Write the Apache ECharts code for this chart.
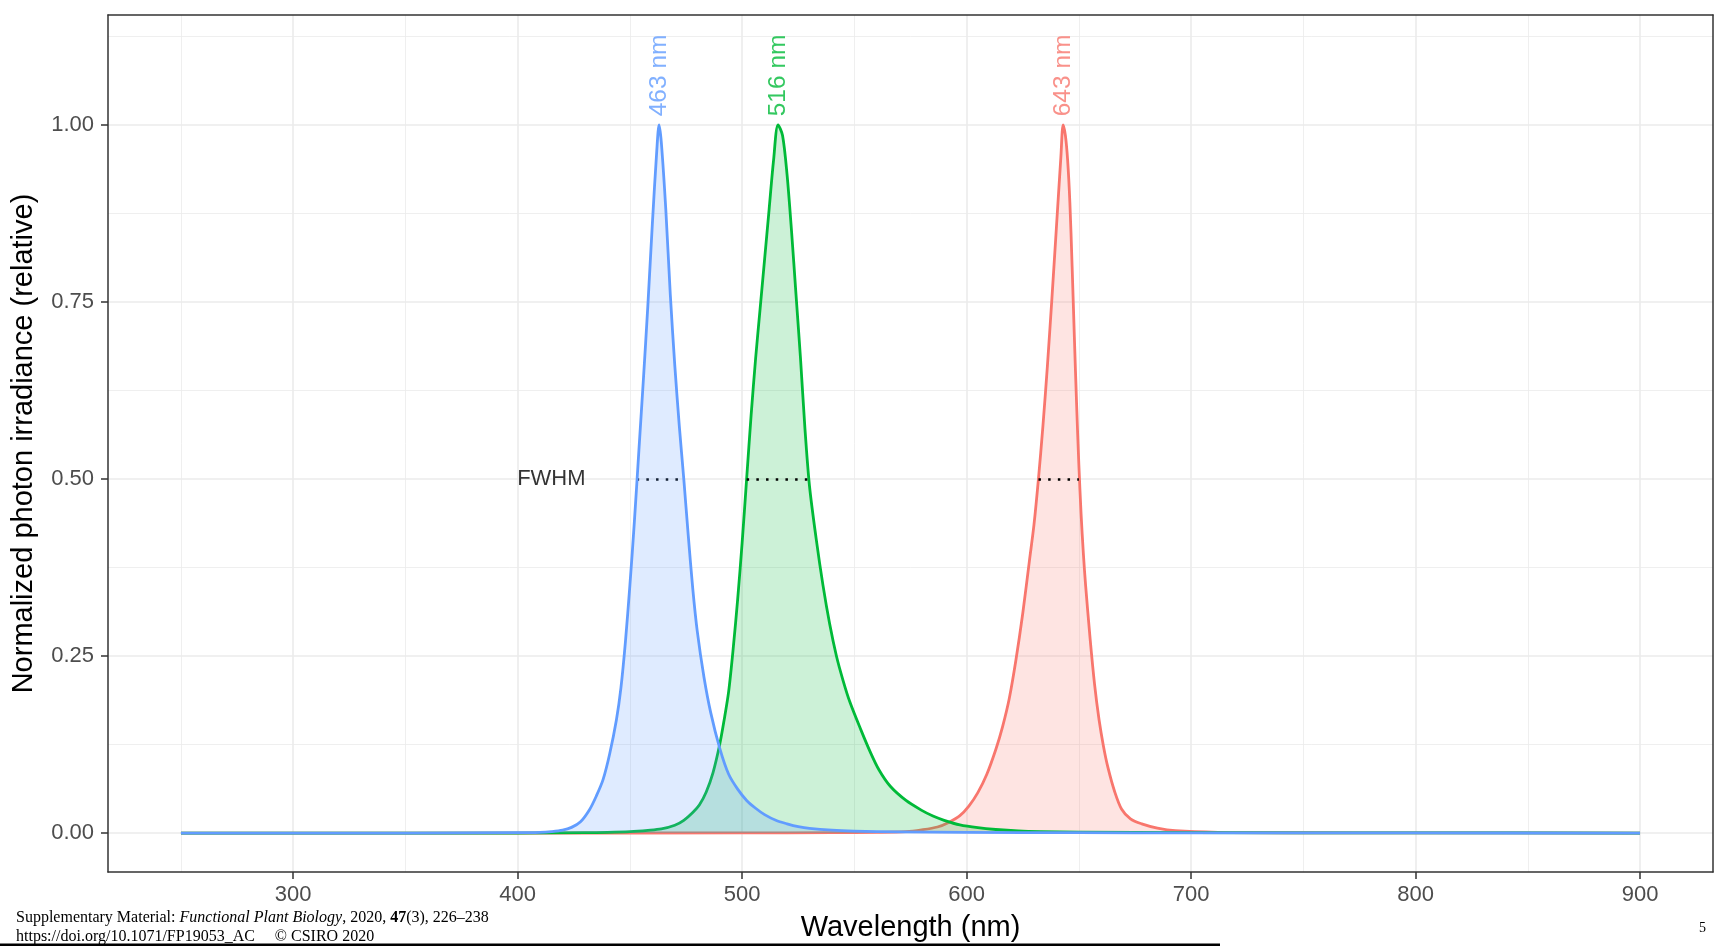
<!DOCTYPE html>
<html><head><meta charset="utf-8">
<script src="https://cdn.jsdelivr.net/npm/echarts@6/dist/echarts.min.js"></script>
<style>html,body{margin:0;padding:0;background:#fff}#c{width:1716px;height:947px}</style>
</head><body><div id="c"></div>
<script>
// ---- data (series order: red, green, blue) ----
const seriesNames = ['643 nm LED', '516 nm LED', '463 nm LED'];
const seriesColors = ['#F8766D', '#00BA38', '#619CFF'];

const redNm  = [250,300,400,500,540,560,573,580,587,592,597,601,605,609,613,616,619,622,625,628,630,632,634,636,638,640,642,643,644,645,646,647,648,649,650,651,652,653,655,657,659,661,663,666,669,673,678,685,693,712,750,800,900];
const redVal = [0,0,0,0.0002,0.0005,0.001,0.002,0.0045,0.0085,0.015,0.0245,0.038,0.057,0.083,0.118,0.15,0.19,0.245,0.31,0.385,0.435,0.5,0.575,0.66,0.755,0.855,0.955,1.0,0.985,0.95,0.89,0.8,0.7,0.605,0.52,0.45,0.395,0.35,0.275,0.21,0.16,0.122,0.092,0.058,0.034,0.02,0.013,0.007,0.0033,0.001,0.0004,0.0002,0];

const greenNm  = [250,300,350,400,430,440,450,458,464,470,474,478,481,484,487,490,492,494,496,498,500,502,504,506,508,510,512,514,516,518,520,522,524,526,528,530,533,536,539,542,545,548,553,557,561,566,573,580,585,590,597,605,613,623,633,650,700,800,900];
const greenVal = [0,0,0,0,0.0005,0.001,0.002,0.0038,0.0058,0.011,0.018,0.029,0.04,0.058,0.085,0.125,0.16,0.2,0.26,0.33,0.41,0.5,0.59,0.67,0.74,0.81,0.88,0.95,1.0,0.985,0.93,0.85,0.76,0.67,0.57,0.49,0.415,0.35,0.295,0.25,0.215,0.185,0.145,0.115,0.089,0.066,0.046,0.032,0.024,0.018,0.0115,0.0075,0.005,0.003,0.002,0.0012,0.0005,0.0002,0];

const blueNm  = [250,300,350,400,410,415,420,424,428,432,435,438,441,444,446,448,450,452,454,456,458,460,462,463,464,466,468,470,472,474,476,478,480,483,486,490,494,498,502,506,510,515,520,525,530,540,550,570,600,650,700,800,900];
const blueVal = [0,0,0,0.0005,0.001,0.002,0.004,0.008,0.016,0.033,0.052,0.075,0.112,0.16,0.205,0.27,0.35,0.44,0.54,0.64,0.745,0.86,0.965,1.0,0.975,0.88,0.76,0.66,0.575,0.5,0.42,0.345,0.285,0.22,0.17,0.12,0.083,0.062,0.046,0.035,0.026,0.018,0.013,0.009,0.0065,0.004,0.0028,0.0016,0.001,0.0005,0.0003,0.0001,0];

const peakNm = [643, 516, 463];
const peakText = ['643 nm', '516 nm', '463 nm'];
const peakLabelY = 1.012;
const fwhmLo = [632, 502, 453];
const fwhmHi = [650, 529.5, 474];
const fwhmLevel = 0.5;
const fwhmTextPos = [415, 0.5];
const fwhmText = 'FWHM';

const xTicks = [300, 400, 500, 600, 700, 800, 900];
const yTicks = [0, 0.25, 0.5, 0.75, 1.0];
const xMin = 217.5, xMax = 932.5;
const yMin = -0.055, yMax = 1.155;

// ---- chart ----
const FONT = 'Liberation Sans, Arial, Helvetica, sans-serif';
const SERIF = 'Liberation Serif, Times New Roman, serif';
const chart = echarts.init(document.getElementById('c'), null, {renderer: 'canvas'});
const pairs = (xs, ys) => xs.map((x, i) => [x, ys[i]]);
const spectra = [[redNm, redVal], [greenNm, greenVal], [blueNm, blueVal]];

const series = spectra.map((s, i) => ({
  name: seriesNames[i],
  type: 'line',
  data: pairs(s[0], s[1]),
  showSymbol: false,
  smooth: 0.3,
  silent: true,
  z: 3 + i,
  lineStyle: {color: seriesColors[i], width: 2.8, join: 'round'},
  areaStyle: {color: seriesColors[i], opacity: 0.2},
  markLine: {
    silent: true,
    symbol: ['none', 'none'],
    label: {show: false},
    lineStyle: {color: '#000', type: [2.5, 7.2], width: 2.5, cap: 'butt'},
    data: [[{coord: [fwhmLo[i], fwhmLevel]}, {coord: [fwhmHi[i], fwhmLevel]}]]
  }
}));

series.push({
  type: 'scatter',
  silent: true,
  symbolSize: 0,
  z: 10,
  data: peakNm.map((x, i) => ({value: [x, peakLabelY], label: {color: seriesColors[i]}})),
  label: {
    show: true, position: 'inside', rotate: 90, align: 'left', verticalAlign: 'middle',
    fontSize: 24.5, fontFamily: FONT,
    formatter: p => peakText[p.dataIndex]
  }
});
series.push({
  type: 'scatter',
  silent: true,
  symbolSize: 0,
  z: 10,
  data: [fwhmTextPos],
  label: {
    show: true, position: 'inside', align: 'center', verticalAlign: 'middle',
    fontSize: 22, fontFamily: FONT, color: '#000',
    formatter: () => fwhmText
  }
});

const gridLeft = 108, gridTop = 15, gridRight = 3, gridBottom = 71;
const axisStroke = {color: '#333', width: 1.5};
const frameAxis = (pos, min, max) => ({
  type: 'value', position: pos, min, max,
  axisLine: {show: true, onZero: false, lineStyle: axisStroke},
  axisTick: {show: false}, axisLabel: {show: false},
  splitLine: {show: false}, minorSplitLine: {show: false}
});

chart.setOption({
  animation: false,
  backgroundColor: '#fff',
  grid: {left: gridLeft, top: gridTop, right: gridRight, bottom: gridBottom, show: false},
  xAxis: [{
    type: 'value', position: 'bottom', min: xMin, max: xMax, minInterval: 100, maxInterval: 100,
    axisLine: {show: true, onZero: false, lineStyle: axisStroke},
    axisTick: {show: true, inside: false, length: 7, lineStyle: axisStroke, customValues: xTicks},
    axisLabel: {customValues: xTicks, margin: 12, fontSize: 22, color: '#4D4D4D', fontFamily: FONT},
    splitLine: {show: true, lineStyle: {color: '#EBEBEB', width: 1.6}},
    minorTick: {show: false, splitNumber: 2},
    minorSplitLine: {show: true, lineStyle: {color: '#EBEBEB', width: 0.8}},
    name: 'Wavelength (nm)', nameLocation: 'middle', nameGap: 41,
    nameTextStyle: {fontSize: 29, color: '#000', fontFamily: FONT}
  }, frameAxis('top', xMin, xMax)],
  yAxis: [{
    type: 'value', position: 'left', min: yMin, max: yMax, minInterval: 0.25, maxInterval: 0.25,
    axisLine: {show: true, onZero: false, lineStyle: axisStroke},
    axisTick: {show: true, inside: false, length: 7, lineStyle: axisStroke, customValues: yTicks},
    axisLabel: {customValues: yTicks, margin: 14, fontSize: 22, color: '#4D4D4D', fontFamily: FONT,
      formatter: v => Number(v).toFixed(2)},
    splitLine: {show: true, lineStyle: {color: '#EBEBEB', width: 1.6}},
    minorTick: {show: false, splitNumber: 2},
    minorSplitLine: {show: true, lineStyle: {color: '#EBEBEB', width: 0.8}},
    name: 'Normalized photon irradiance (relative)', nameLocation: 'middle', nameGap: 70,
    nameTextStyle: {fontSize: 29, color: '#000', fontFamily: FONT}
  }, frameAxis('right', yMin, yMax)],
  series: series,
  graphic: [
    {type: 'text', left: 16, top: 910, z: 100, silent: true,
      style: {
        text: '{r|Supplementary Material: }{i|Functional Plant Biology}{r|, 2020, }{b|47}{r|(3), 226–238}',
        rich: {
          r: {fontFamily: SERIF, fontSize: 16, fill: '#000'},
          i: {fontFamily: SERIF, fontSize: 16, fontStyle: 'italic', fill: '#000'},
          b: {fontFamily: SERIF, fontSize: 16, fontWeight: 'bold', fill: '#000'}
        }
      }},
    {type: 'text', left: 16, top: 929, z: 100, silent: true,
      style: {text: 'https://doi.org/10.1071/FP19053_AC     © CSIRO 2020', fontFamily: SERIF, fontSize: 16, fill: '#000'}},
    {type: 'text', left: 1699, top: 921, z: 100, silent: true,
      style: {text: '5', fontFamily: SERIF, fontSize: 14, fill: '#000'}},
    {type: 'rect', z: 100, silent: true,
      shape: {x: 0, y: 943.5, width: 1220, height: 2.5}, style: {fill: '#000'}}
  ]
});
</script>
</body></html>
